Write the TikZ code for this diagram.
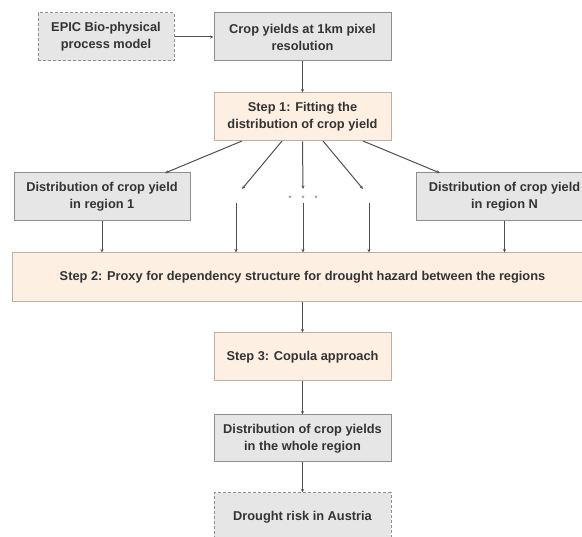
\documentclass[tikz,border=0pt]{standalone}
\usepackage{fontspec}
\setmainfont{Liberation Sans}
\usetikzlibrary{arrows.meta}
\definecolor{txt}{HTML}{333333}
\definecolor{greyfill}{HTML}{E6E6E6}
\definecolor{greyline}{HTML}{8E8E8E}
\definecolor{peachfill}{HTML}{FDF0E3}
\definecolor{peachline}{HTML}{BDB0A3}
\definecolor{arr}{HTML}{505050}
\tikzset{
  box/.style={rectangle, draw=greyline, line width=1pt, inner sep=0pt, align=center,
    text=txt, font=\fontsize{12.8}{17}\selectfont\bfseries},
  greybox/.style={box, fill=greyfill},
  peachbox/.style={box, fill=peachfill, draw=peachline},
  dashbox/.style={box, fill=greyfill, dashed, dash pattern=on 3pt off 2pt},
  link/.style={draw=arr, line width=1pt, -{Stealth[length=3.5pt,width=3pt]}},
  dotmark/.style={circle, fill=greyline!80, inner sep=0pt, minimum size=3pt}
}
\begin{document}
\begin{tikzpicture}[x=1pt,y=-1pt]
\useasboundingbox (0,0) rectangle (582,537);
\clip (0,0) rectangle (582,537);
% boxes
\node[dashbox, minimum width=136pt, minimum height=48pt] (epic) at (106,37) {EPIC Bio-physical\\process model};
\node[greybox, minimum width=177pt, minimum height=48pt] (crop) at (302.5,37) {Crop yields at 1km pixel\\resolution};
\node[peachbox, minimum width=177pt, minimum height=48pt] (step1) at (302.5,117) {Step 1: Fitting the\\distribution of crop yield};
\node[greybox, minimum width=176pt, minimum height=48pt] (reg1) at (102,197) {Distribution of crop yield\\in region 1};
\node[greybox, minimum width=177pt, minimum height=48pt] (regN) at (504.5,197) {Distribution of crop yield\\in region N};
\node[peachbox, minimum width=581pt, minimum height=49pt] (step2) at (302.5,277.5) {Step 2: Proxy for dependency structure for drought hazard between the regions};
\node[peachbox, minimum width=177pt, minimum height=48pt] (step3) at (302.5,357) {Step 3: Copula approach};
\node[greybox, minimum width=177pt, minimum height=47pt] (whole) at (302.5,438.5) {Distribution of crop yields\\in the whole region};
\node[dashbox, minimum width=177pt, minimum height=48pt] (drought) at (302.5,517) {Drought risk in Austria};
% dots
\node[dotmark] (d1) at (290,197) {};
\node[dotmark] (d2) at (303,197) {};
\node[dotmark] (d3) at (316,197) {};
% free coordinates
\coordinate (s1a) at (242,141);
\coordinate (s1b) at (282,141);
\coordinate (s1d) at (323,141);
\coordinate (s1e) at (363,141);
\coordinate (r1in) at (165,173);
\coordinate (rNin) at (440,173);
\coordinate (mb) at (242,189);
\coordinate (mc) at (303,189);
\coordinate (md) at (363,189);
\coordinate (lb) at (236,203);
\coordinate (lc) at (303,203);
\coordinate (ld) at (369,203);
% connectors
\draw[link] (epic.east) -- (crop.west);
\draw[link] (crop.south) -- (step1.north);
\draw[link] (s1a) -- (r1in);
\draw[link] (s1b) -- (mb);
\draw[link] (step1.south) -- (mc);
\draw[link] (s1d) -- (md);
\draw[link] (s1e) -- (rNin);
\draw[link] (reg1.south) -- (reg1.south |- step2.north);
\draw[link] (lb) -- (lb |- step2.north);
\draw[link] (lc) -- (lc |- step2.north);
\draw[link] (ld) -- (ld |- step2.north);
\draw[link] (regN.south) -- (regN.south |- step2.north);
\draw[link] (step2.south) -- (step3.north);
\draw[link] (step3.south) -- (whole.north);
\draw[link] (whole.south) -- (drought.north);
\end{tikzpicture}
\end{document}
